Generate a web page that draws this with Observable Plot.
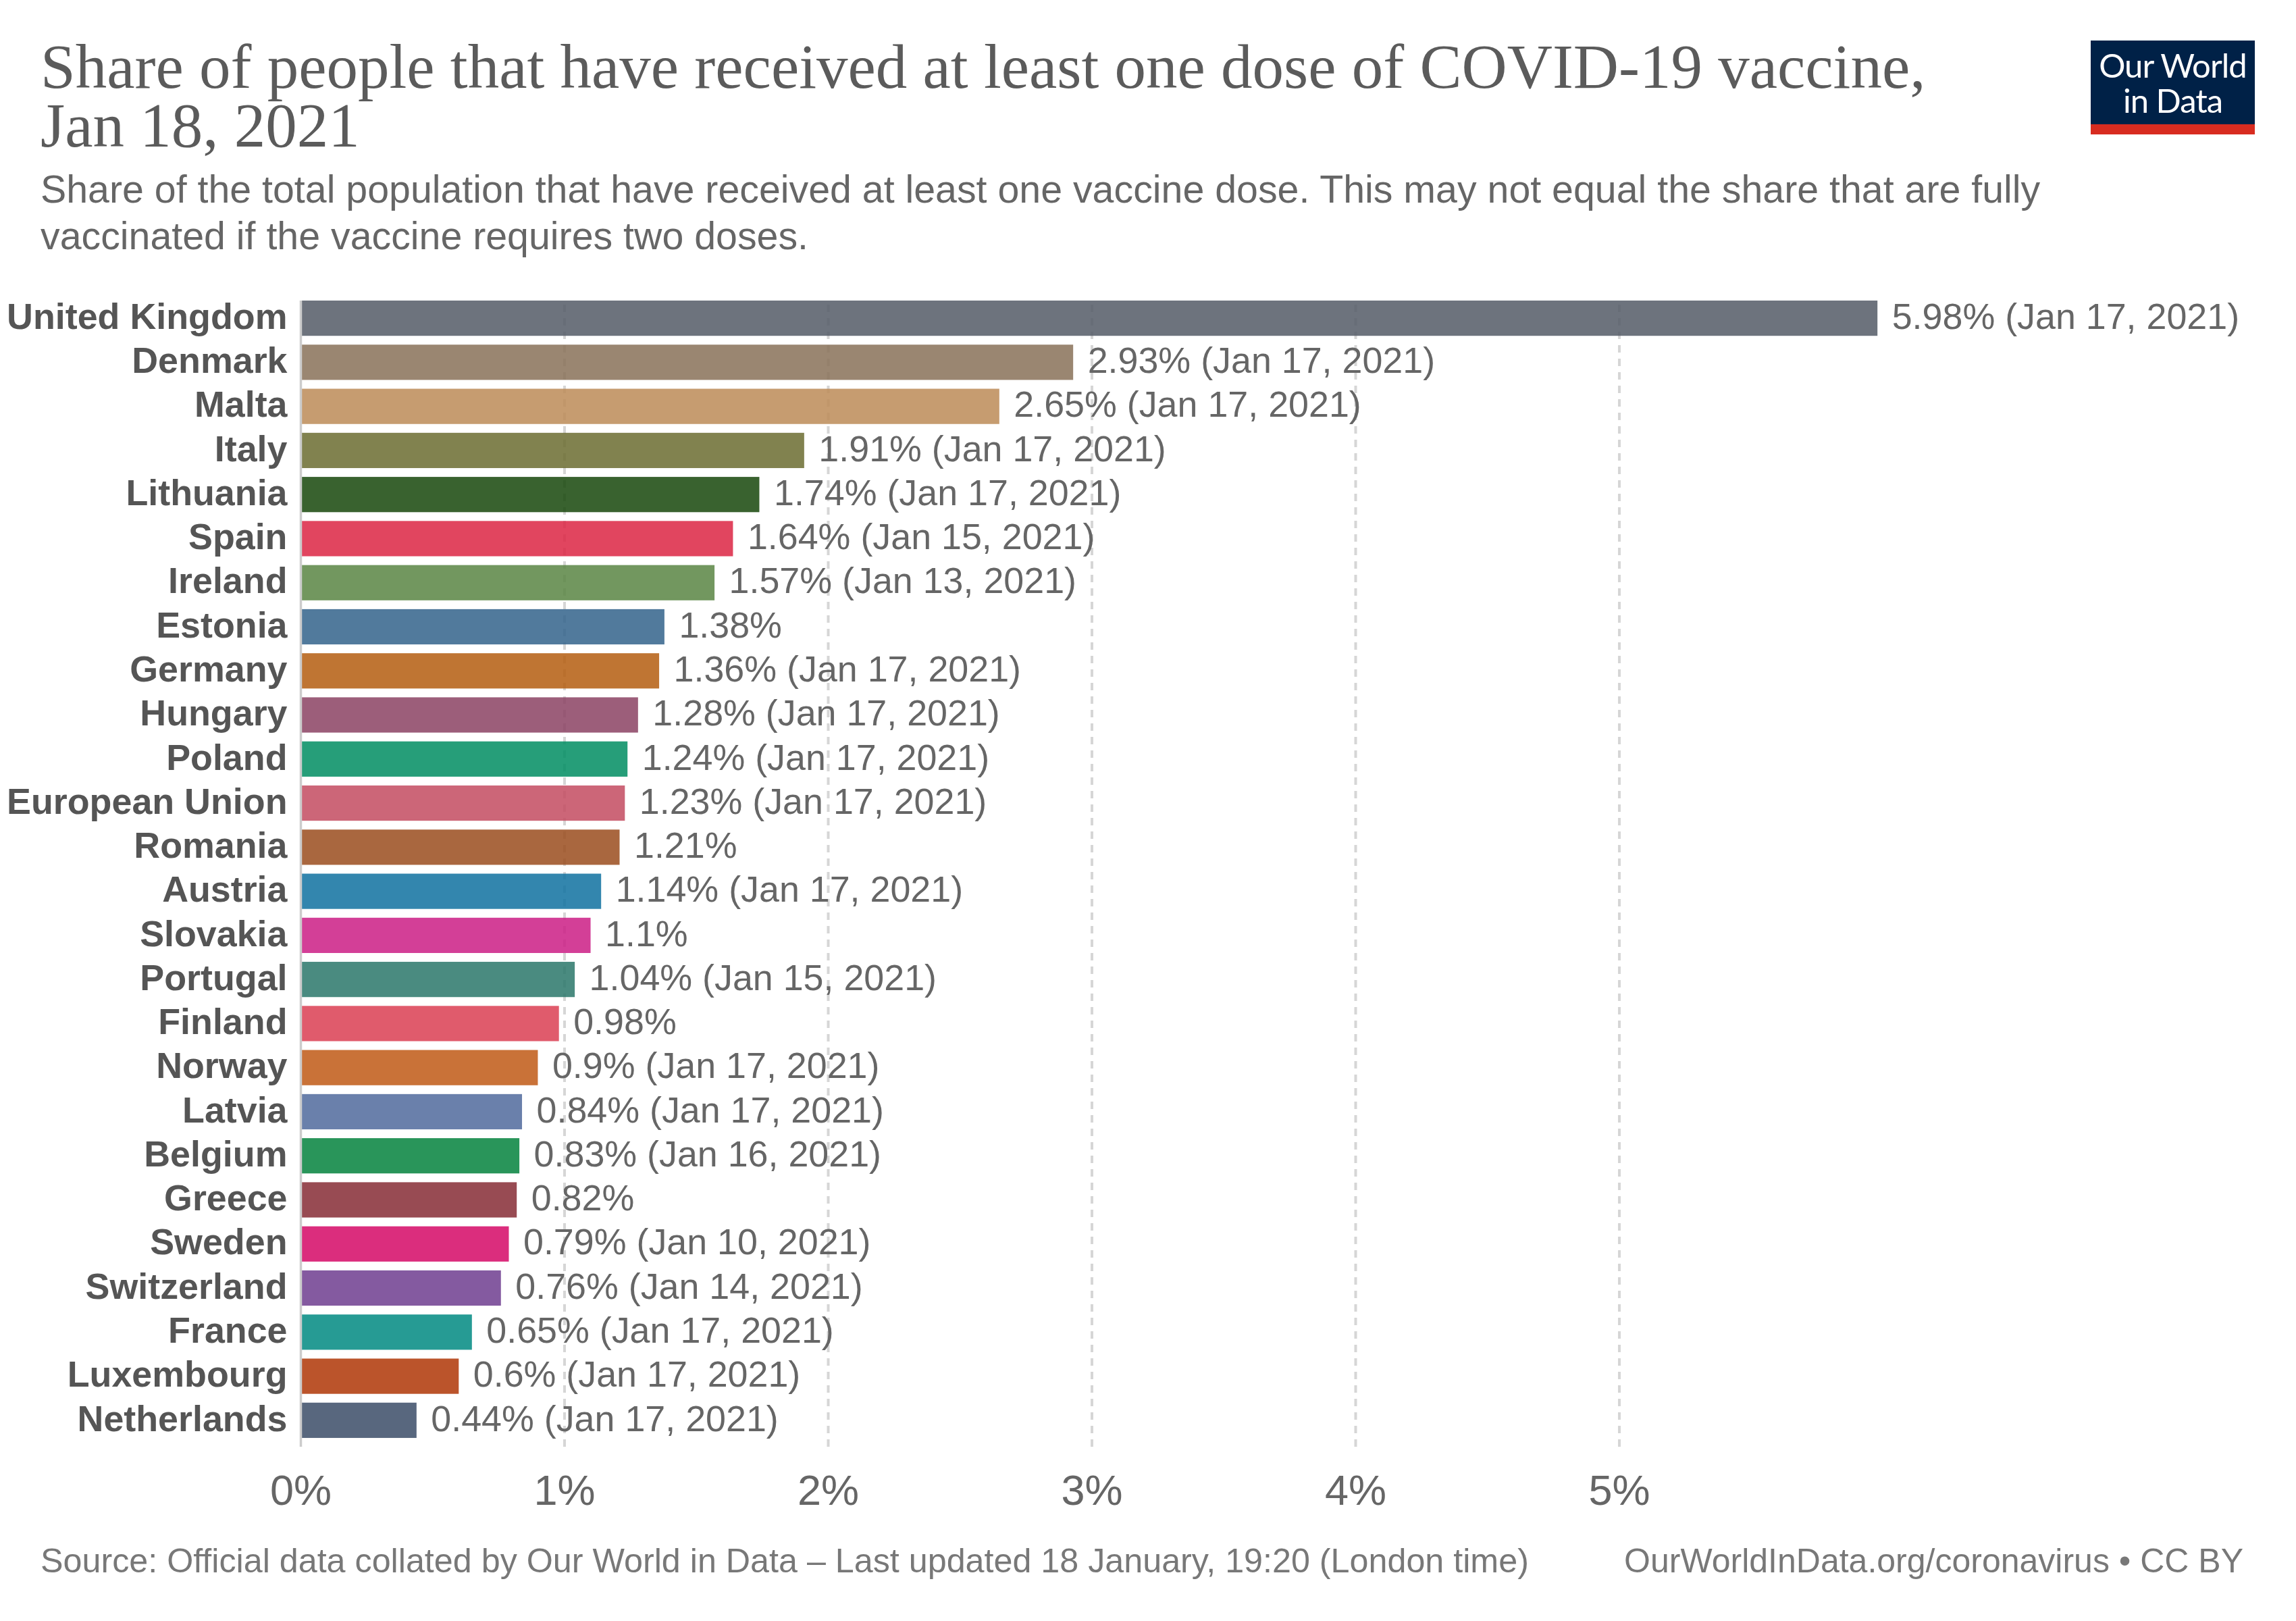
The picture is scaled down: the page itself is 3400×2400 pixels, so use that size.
<!DOCTYPE html>
<html><head><meta charset="utf-8">
<script src="https://cdn.jsdelivr.net/npm/d3@7"></script>
<script src="https://cdn.jsdelivr.net/npm/@observablehq/plot@0.6"></script>
<style>
html,body{margin:0;padding:0;background:#fff;}
#page{position:relative;width:3400px;height:2400px;overflow:hidden;}
#head{position:relative;height:400px;}
#title{position:absolute;left:60px;top:55px;font:93px/87px "Liberation Serif",serif;color:#5b5b5b;white-space:nowrap;}
#sub{position:absolute;left:60px;top:246px;font:57.3px/69px "Liberation Sans",sans-serif;color:#666;white-space:nowrap;}
#logo{position:absolute;left:3096px;top:60px;width:243px;height:139px;background:#002147;border-bottom:15px solid #d82c20;box-sizing:border-box;color:#fff;text-align:center;font:49px/52px Lato,sans-serif;padding-top:10px;letter-spacing:-1px;}
#plot{position:absolute;left:0;top:400px;}
#src,#by{position:absolute;top:2281px;font:50.25px/60px "Liberation Sans",sans-serif;color:#787878;white-space:nowrap;}
#src{left:60px;}#by{right:78px;font-size:50px;}
</style></head><body>
<div id="page">
<div id="head">
<div id="title">Share of people that have received at least one dose of COVID-19 vaccine,<br>Jan 18, 2021</div>
<div id="sub">Share of the total population that have received at least one vaccine dose. This may not equal the share that are fully<br>vaccinated if the vaccine requires two doses.</div>
<div id="logo">Our World<br>in Data</div>
</div>
<div id="plot"></div>
<div id="src">Source: Official data collated by Our World in Data – Last updated 18 January, 19:20 (London time)</div>
<div id="by">OurWorldInData.org/coronavirus • CC BY</div>
</div>
<script>
const countries = ["United Kingdom","Denmark","Malta","Italy","Lithuania","Spain","Ireland","Estonia","Germany","Hungary","Poland","European Union","Romania","Austria","Slovakia","Portugal","Finland","Norway","Latvia","Belgium","Greece","Sweden","Switzerland","France","Luxembourg","Netherlands"];
const shares = [5.98,2.93,2.65,1.91,1.74,1.64,1.57,1.38,1.36,1.28,1.24,1.23,1.21,1.14,1.1,1.04,0.98,0.9,0.84,0.83,0.82,0.79,0.76,0.65,0.6,0.44];
const dates = ["Jan 17, 2021","Jan 17, 2021","Jan 17, 2021","Jan 17, 2021","Jan 17, 2021","Jan 15, 2021","Jan 13, 2021","","Jan 17, 2021","Jan 17, 2021","Jan 17, 2021","Jan 17, 2021","","Jan 17, 2021","","Jan 15, 2021","","Jan 17, 2021","Jan 17, 2021","Jan 16, 2021","","Jan 10, 2021","Jan 14, 2021","Jan 17, 2021","Jan 17, 2021","Jan 17, 2021"];
const visibleColors = ["#6d737d","#9a8671","#c69c70","#81824f","#39632f","#e1455f","#72975f","#517a9c","#bf7533","#9c5e7a","#269e79","#cc6678","#a9673f","#3386ae","#d33f97","#4a8b80","#e05b6c","#c97238","#6a80ab","#29955a","#984b53","#db2d7d","#855aa0","#259b94","#bb542b","#58677e"];
const xTicks = [0,1,2,3,4,5];
const gridTicks = [1,2,3,4,5];

// Bars are translucent over the grid: undo the white mix so the result shows the read colour.
const barOpacity = 0.85;
const baseColors = visibleColors.map(c => {
  const {r,g,b} = d3.rgb(c);
  const u = v => Math.max(0, Math.min(255, (v - 255*(1-barOpacity))/barOpacity));
  return d3.rgb(u(r),u(g),u(b)).formatHex();
});
const rows = countries.map((country,i) => ({country, share:shares[i], date:dates[i],
  label: dates[i] ? `${shares[i]}% (${dates[i]})` : `${shares[i]}%`}));

const chart = Plot.plot({
  width:3400, height:1890,
  marginLeft:445, marginRight:0, marginTop:45, marginBottom:148,
  style:{fontFamily:'"Liberation Sans",sans-serif',background:"#fff"},
  x:{domain:[0,(3400-445)/390.5],axis:null},
  y:{domain:countries,paddingInner:0.2,paddingOuter:0.1,align:0,round:false,axis:null},
  color:{domain:countries,range:baseColors},
  marks:[
    Plot.ruleX(gridTicks,{stroke:"#d6d6d6",strokeWidth:4,strokeDasharray:"11,9",strokeDashoffset:14}),
    Plot.barX(rows,{x:"share",y:"country",fill:"country",fillOpacity:barOpacity}),
    Plot.ruleX([0],{stroke:"#ccc",strokeWidth:3.5}),
    Plot.text(rows,{x:"share",y:"country",text:"label",textAnchor:"start",dx:21,dy:-2,fontSize:53.8,fill:"#666"}),
    Plot.axisY({tickSize:0,tickPadding:20,fontSize:53.8,fontWeight:700,color:"#555",label:null,dy:-2}),
    Plot.axisX(xTicks,{tickSize:0,tickPadding:41,fontSize:63,color:"#666",label:null,tickFormat:d=>d+"%"})
  ]
});
document.getElementById("plot").append(chart);
</script>
</body></html>
